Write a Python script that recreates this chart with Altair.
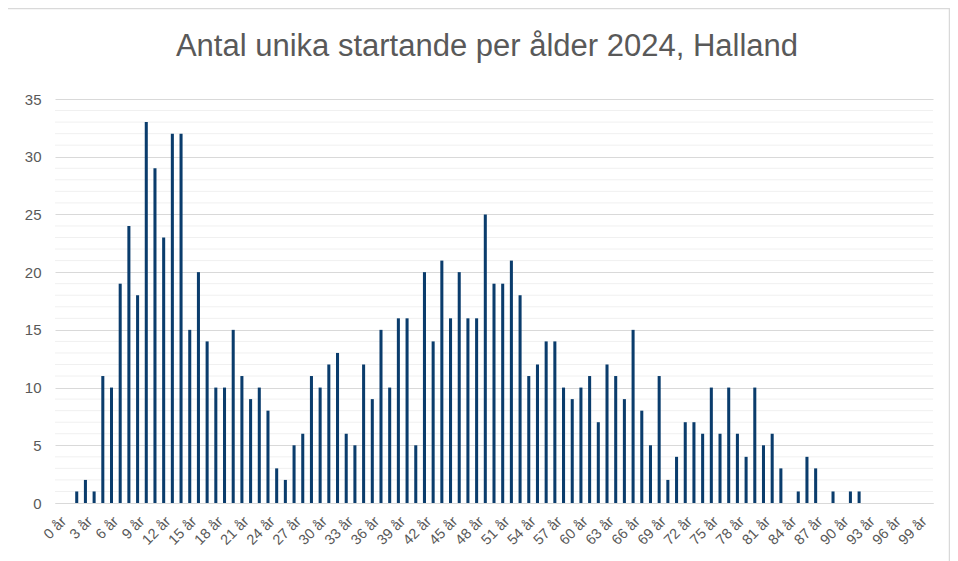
import altair as alt
import pandas as pd

ages = [f"{i} år" for i in range(0, 101)]
values = [
    0, 0, 1, 2, 1, 11, 10, 19, 24, 18,
    33, 29, 23, 32, 32, 15, 20, 14, 10, 10,
    15, 11, 9, 10, 8, 3, 2, 5, 6, 11,
    10, 12, 13, 6, 5, 12, 9, 15, 10, 16,
    16, 5, 20, 14, 21, 16, 20, 16, 16, 25,
    19, 19, 21, 18, 11, 12, 14, 14, 10, 9,
    10, 11, 7, 12, 11, 9, 15, 8, 5, 11,
    2, 4, 7, 7, 6, 10, 6, 10, 6, 4,
    10, 5, 6, 3, 0, 1, 4, 3, 0, 1,
    0, 1, 1, 0, 0, 0, 0, 0, 0, 0,
    0,
]
x_label_values = [f"{i} år" for i in range(0, 100, 3)]
y_major = [0, 5, 10, 15, 20, 25, 30, 35]
y_minor = [v for v in range(0, 36) if v % 5 != 0]

df = pd.DataFrame({"age": ages, "count": values})
minor_df = pd.DataFrame({"count": y_minor})

W, H = 878, 404
TEXT = "#595959"
FONT = "Liberation Sans"

y_scale = alt.Scale(domain=[0, 35], nice=False)
y_axis = alt.Axis(
    title=None,
    values=y_major,
    labelFontSize=15,
    labelColor=TEXT,
    labelFont=FONT,
    ticks=False,
    domain=False,
    grid=True,
    gridColor="#d9d9d9",
    labelPadding=14,
)

minor = alt.Chart(minor_df).mark_rule(color="#f0f0f0", strokeWidth=1).encode(
    y=alt.Y("count:Q", scale=y_scale, axis=y_axis, title=None)
)

bars = alt.Chart(df).mark_bar(color="#0a3c6c").encode(
    x=alt.X(
        "age:N",
        sort=ages,
        scale=alt.Scale(paddingInner=0.65, paddingOuter=0.325),
        axis=alt.Axis(
            title=None,
            values=x_label_values,
            labelAngle=-45,
            labelFontSize=14.5,
            labelColor=TEXT,
            labelFont=FONT,
            ticks=False,
            domain=True,
            domainColor="#d9d9d9",
            grid=False,
            labelPadding=11,
        ),
    ),
    y=alt.Y("count:Q", scale=y_scale, axis=y_axis, title=None),
)

border = alt.Chart(pd.DataFrame({"a": [0]})).mark_rect(
    fill=None, stroke="#d9d9d9", strokeWidth=1.5
).encode(
    x=alt.value(-48.5), x2=alt.value(894.5),
    y=alt.value(-90.5), y2=alt.value(480),
)

chart = alt.layer(minor, bars, border).properties(
    width=W,
    height=H,
    title=alt.TitleParams(
        "Antal unika startande per ålder 2024, Halland",
        fontSize=31,
        font=FONT,
        fontWeight="normal",
        color=TEXT,
        anchor="middle",
        offset=-55,
        dx=-7,
    ),
    autosize=alt.AutoSizeParams(type="none"),
    padding={"left": 47, "top": 91, "right": 17, "bottom": 58},
).configure_view(stroke=None)

chart.save("out.html", embed_options={"renderer": "svg", "actions": False})
